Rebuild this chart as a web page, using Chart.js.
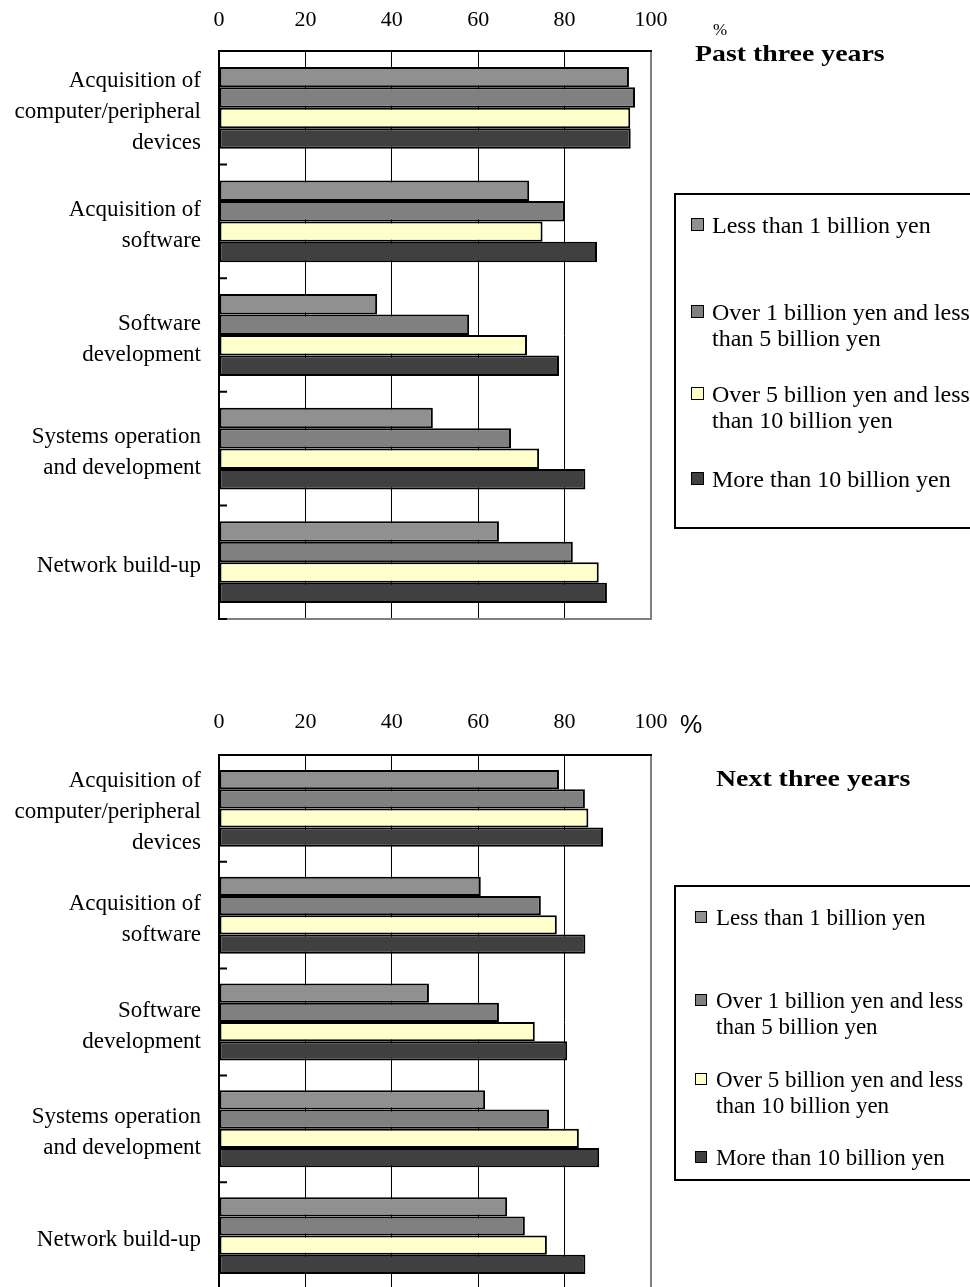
<!DOCTYPE html>
<html lang="en">
<head>
<meta charset="UTF-8">
<title>IT investment by company size</title>
<script src="https://cdn.jsdelivr.net/npm/chart.js"></script>
<style>
  body {
    margin: 0;
    width: 970px;
    height: 1287px;
    overflow: hidden;
    background: #fff;
    color: #000;
    font-family: "Liberation Serif", "Times New Roman", serif;
    position: relative;
  }
  canvas { position: absolute; left: 0; }
  #pastChart { top: 0; }
  #nextChart { top: 700px; }
  .title {
    position: absolute;
    font-weight: bold;
    font-size: 24px;
    line-height: 24px;
    white-space: nowrap;
    transform: scaleX(1.16);
    transform-origin: left;
  }
  .pct { position: absolute; white-space: nowrap; }
  .legend {
    position: absolute;
    left: 674px;
    width: 320px;
    border: 2px solid #000;
    box-sizing: border-box;
  }
  .item { position: absolute; font-size: 24px; line-height: 26px; white-space: nowrap; }
  .item.small { font-size: 23px; }
  .swatch { position: absolute; box-sizing: border-box; border: 1.5px solid #000; }
</style>
</head>
<body>
<canvas id="pastChart" width="970" height="640"></canvas>
<canvas id="nextChart" width="970" height="600"></canvas>

<div class="pct" style="left:713px; top:21px; font-size:17px; line-height:17px;">%</div>
<div class="title" style="left:695px; top:41px;">Past three years</div>
<div class="legend" style="top:193px; height:336px;"></div>
<div id="legendPast"></div>

<div class="pct" style="left:680px; top:712px; font-family:'Liberation Sans', Arial, sans-serif; font-size:25px; line-height:25px;">%</div>
<div class="title" style="left:716px; top:766px;">Next three years</div>
<div class="legend" style="top:885px; height:296px;"></div>
<div id="legendNext"></div>

<script>
// categories (top to bottom)
const categories = [
    ['Acquisition of', 'computer/peripheral', 'devices'],
    ['Acquisition of', 'software'],
    ['Software', 'development'],
    ['Systems operation', 'and development'],
    ['Network build-up']
];
const seriesNames = [
    'Less than 1 billion yen',
    'Over 1 billion yen and less than 5 billion yen',
    'Over 5 billion yen and less than 10 billion yen',
    'More than 10 billion yen'
];
const seriesColors = ['#909090', '#808080', '#ffffcc', '#404040'];
const xTicks = [0, 20, 40, 60, 80, 100];

// Past three years (%)
const pastUnder1 = [94.9, 71.8, 36.6, 49.5, 64.8];
const past1to5 = [96.3, 80.0, 57.9, 67.6, 81.9];
const past5to10 = [95.2, 74.9, 71.3, 74.1, 87.9];
const pastOver10 = [95.3, 87.5, 78.7, 84.8, 89.8];

// Next three years (%)
const nextUnder1 = [78.7, 60.6, 48.6, 61.6, 66.7];
const next1to5 = [84.7, 74.5, 64.8, 76.4, 70.8];
const next5to10 = [85.5, 78.2, 73.1, 83.3, 75.9];
const nextOver10 = [88.9, 84.8, 80.6, 88.0, 84.8];

Chart.defaults.font.family = '"Liberation Serif", "Times New Roman", serif';
Chart.defaults.color = '#000';

// short inward ticks on the left axis + grey bottom frame
const framePlugin = {
    id: 'frame',
    afterDatasetsDraw(chart) {
        const { ctx, chartArea: a, scales: { y } } = chart;
        ctx.save();
        ctx.strokeStyle = '#808080';
        ctx.lineWidth = 2;
        ctx.beginPath();
        ctx.moveTo(a.left, a.bottom);
        ctx.lineTo(a.right + 1, a.bottom);
        ctx.stroke();
        ctx.strokeStyle = '#000';
        ctx.beginPath();
        for (let i = 1; i <= categories.length; i++) {
            const py = y.getPixelForValue(i - 0.5);
            ctx.moveTo(a.left, py);
            ctx.lineTo(a.left + 8, py);
        }
        ctx.stroke();
        ctx.restore();
    }
};

function makeChart(id, series, axisHeight, labelPad, bottomPad) {
    const ctx = document.getElementById(id).getContext('2d');
    return new Chart(ctx, {
        type: 'bar',
        data: {
            labels: categories,
            datasets: series.map((data, i) => ({
                label: seriesNames[i],
                data: data,
                backgroundColor: seriesColors[i],
                borderColor: '#000',
                borderWidth: 2,
                borderSkipped: false,
                categoryPercentage: 0.72,
                barPercentage: 1.0
            }))
        },
        options: {
            indexAxis: 'y',
            responsive: false,
            animation: false,
            layout: { padding: { left: 0, right: 319, top: 0, bottom: bottomPad } },
            plugins: {
                legend: { display: false },
                tooltip: { enabled: false }
            },
            scales: {
                x: {
                    position: 'top',
                    min: 0,
                    max: 100,
                    afterBuildTicks: (scale) => { scale.ticks = xTicks.map(v => ({ value: v })); },
                    afterFit: (scale) => { scale.height = axisHeight; },
                    ticks: { font: { size: 22 }, padding: labelPad },
                    grid: {
                        drawTicks: false,
                        color: (c) => c.tick && c.tick.value === 100 ? '#808080' : '#000',
                        lineWidth: (c) => c.tick && c.tick.value === 100 ? 2 : 1
                    },
                    border: { color: '#000', width: 2 }
                },
                y: {
                    afterFit: (scale) => {
                        scale.width = 219;
                        scale.paddingTop = 0;
                        scale.paddingBottom = 0;
                    },
                    ticks: {
                        font: { size: 23, lineHeight: 1.35 },
                        padding: 10,
                        labelOffset: 4,
                        autoSkip: false
                    },
                    grid: { display: false },
                    border: { color: '#000', width: 2 }
                }
            }
        },
        plugins: [framePlugin]
    });
}

makeChart('pastChart', [pastUnder1, past1to5, past5to10, pastOver10], 51, 18, 21);
makeChart('nextChart', [nextUnder1, next1to5, next5to10, nextOver10], 55, 20, 11);

// legends (HTML, boxed like the original)
function buildLegend(holderId, items, textLeft, boxLeft, boxSize, small) {
    const holder = document.getElementById(holderId);
    items.forEach((it, i) => {
        const text = document.createElement('div');
        text.className = 'item' + (small ? ' small' : '');
        text.style.left = textLeft + 'px';
        text.style.top = it.top + 'px';
        text.innerHTML = it.lines.join('<br>');
        holder.appendChild(text);
        const sw = document.createElement('div');
        sw.className = 'swatch';
        sw.style.left = boxLeft + 'px';
        sw.style.top = (it.top + 6) + 'px';
        sw.style.width = boxSize + 'px';
        sw.style.height = boxSize + 'px';
        sw.style.background = seriesColors[i];
        holder.appendChild(sw);
    });
}

buildLegend('legendPast', [
    { lines: ['Less than 1 billion yen'], top: 212 },
    { lines: ['Over 1 billion yen and less', 'than 5 billion yen'], top: 299 },
    { lines: ['Over 5 billion yen and less', 'than 10 billion yen'], top: 381 },
    { lines: ['More than 10 billion yen'], top: 466 }
], 712, 691, 13, false);

buildLegend('legendNext', [
    { lines: ['Less than 1 billion yen'], top: 905 },
    { lines: ['Over 1 billion yen and less', 'than 5 billion yen'], top: 988 },
    { lines: ['Over 5 billion yen and less', 'than 10 billion yen'], top: 1067 },
    { lines: ['More than 10 billion yen'], top: 1145 }
], 716, 695, 12, true);
</script>
</body>
</html>
